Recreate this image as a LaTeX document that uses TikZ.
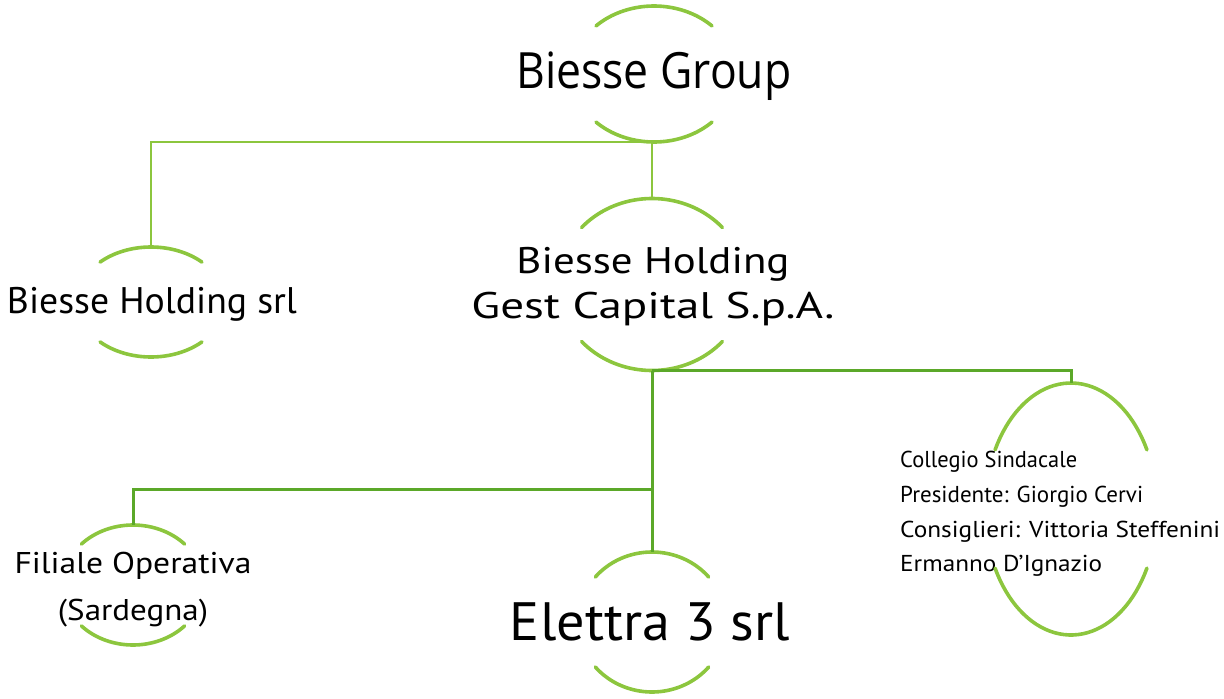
\documentclass[tikz,border=0pt]{standalone}
\usepackage{fontspec}
\usepackage{graphicx}
\setmainfont{PT Sans}
\newfontfamily\grpfont{Open Sans}
\definecolor{arcgreen}{RGB}{140,198,62}
\definecolor{darkline}{RGB}{91,168,41}
\newcommand{\fitw}[2]{\resizebox{#1pt}{\height}{#2}}
\newcommand{\arcpair}[6]{%
  % name, cx, cy, rx, ry, half-angle
  \draw[arcst] plot[domain={90-#6}:{90+#6}, samples=40] ({#2+#4*cos(\x)}, {#3-#5*sin(\x)});
  \draw[arcst] plot[domain={270-#6}:{270+#6}, samples=40] ({#2+#4*cos(\x)}, {#3-#5*sin(\x)});
  \coordinate (#1-t) at (#2,{#3-#5});
  \coordinate (#1-b) at (#2,{#3+#5});
}
\begin{document}
\begin{tikzpicture}[x=1pt,y=-1pt,
  arcst/.style={draw=arcgreen, line width=3.6pt, line cap=round},
  upline/.style={draw=arcgreen, line width=2.2pt},
  lowline/.style={draw=darkline, line width=3pt},
  lbl/.style={inner sep=0pt, text=black}]
\useasboundingbox (0,0) rectangle (1224,699);
% nodes
\node[lbl, anchor=base, font=\grpfont\fontsize{50}{60}\selectfont] (bg) at (654,88) {\fitw{275}{Biesse Group}};
\node[lbl, anchor=base, font=\fontsize{37}{45}\selectfont] (bhs) at (152,313) {\fitw{290}{Biesse Holding srl}};
\node[lbl, align=center, font=\fontsize{37}{45}\selectfont] (bhg) at (653,287) {\fitw{273}{Biesse Holding}\\\fitw{363}{Gest Capital S.p.A.}};
\node[lbl, anchor=west, align=left, font=\fontsize{23}{34.7}\selectfont] (cs) at (900,514) {\fitw{177}{Collegio Sindacale}\\\fitw{243}{Presidente: Giorgio Cervi}\\\fitw{320}{Consiglieri: Vittoria Steffenini}\\\fitw{202}{Ermanno D’Ignazio}};
\node[lbl, align=center, font=\fontsize{30}{47}\selectfont] (fo) at (133,590) {\fitw{237}{Filiale Operativa}\\\fitw{150}{(Sardegna)}};
\node[lbl, anchor=base, font=\fontsize{54}{60}\selectfont] (el) at (650,640) {\fitw{280}{Elettra 3 srl}};
% arcs
\arcpair{bg}{654}{74}{82}{68}{45}
\arcpair{bhs}{151}{302}{74}{55}{43.5}
\arcpair{bhg}{652}{284.5}{94}{86}{48.5}
\arcpair{cs}{1071}{509}{86}{126}{62}
\arcpair{fo}{133}{585}{70.5}{60}{47}
\arcpair{el}{652}{622}{74}{70}{50}
% connectors
\draw[upline] (bg-b) -| (bhs-t);
\draw[upline] (bg-b) -| (bhg-t);
\coordinate (jn) at (652,489);
\draw[lowline] (bhg-b) -| (cs-t);
\draw[lowline] (bhg-b) -- (jn);
\draw[lowline] (jn) -| (fo-t);
\draw[lowline] (jn) -- (el-t);
\end{tikzpicture}
\end{document}
